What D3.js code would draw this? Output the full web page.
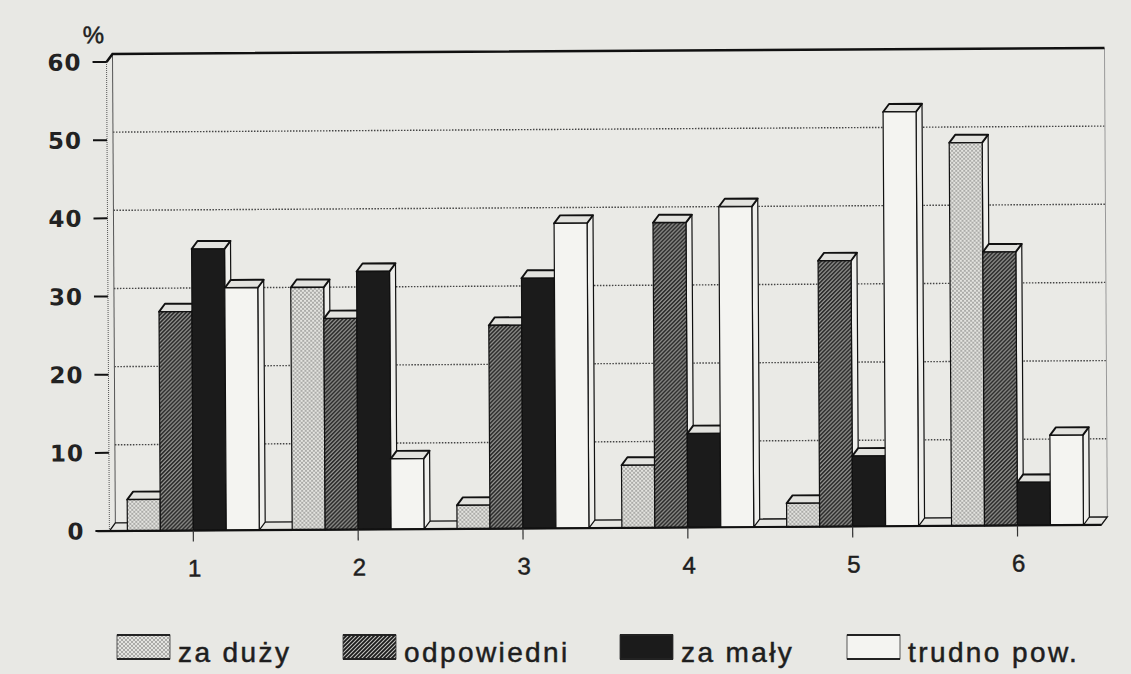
<!DOCTYPE html>
<html>
<head>
<meta charset="utf-8">
<title></title>
<style>
body {
  margin: 0;
  background: #e8e8e4;
}
svg {
  display: block;
}
.ylab {
  font: bold 23px "DejaVu Sans", sans-serif;
  fill: #222;
  letter-spacing: 1px;
}
.xlab {
  font: 24px "Liberation Sans", Arial, sans-serif;
  fill: #1e1e1e;
  stroke: #1e1e1e;
  stroke-width: 0.5px;
}
.leg {
  font: 28px "Liberation Sans", Arial, sans-serif;
  fill: #1e1e1e;
  stroke: #1e1e1e;
  stroke-width: 0.5px;
  letter-spacing: 2.4px;
}
</style>
</head>
<body>
<script src="https://cdn.jsdelivr.net/npm/d3@7"></script>
<script>

// values (%)
var categories = ["1", "2", "3", "4", "5", "6"];
var seriesNames = ["za duży", "odpowiedni", "za mały", "trudno pow."];
var zaDuzy     = [4, 31, 3, 8, 3, 49];
var odpowiedni = [28, 27, 26, 39, 34, 35];
var zaMaly     = [36, 33, 32, 12, 9, 5.5];
var trudnoPow  = [31, 9, 39, 41, 53, 11.5];
var yTicks = [0, 10, 20, 30, 40, 50, 60];

var seriesData = [zaDuzy, odpowiedni, zaMaly, trudnoPow];

var width = 1131,
    height = 674;

var left = 108, right = 1100, base = 528, topY = 59;
var dx = 6, dy = 8;

var x = d3.scaleBand()
    .domain(categories)
    .range([left, right])
    .paddingInner(0.2)
    .paddingOuter(0.109);

var xs = d3.scaleBand()
    .domain(seriesNames)
    .range([0, x.bandwidth()]);

var y = d3.scaleLinear()
    .domain([0, 60])
    .range([base, topY]);

var svg = d3.select("body").append("svg")
    .attr("width", width)
    .attr("height", height);

// fill patterns
var defs = svg.append("defs");

var dots = defs.append("pattern")
    .attr("id", "dots")
    .attr("patternUnits", "userSpaceOnUse")
    .attr("width", 4)
    .attr("height", 4);
dots.append("rect").attr("width", 4).attr("height", 4).attr("fill", "#e4e4e0");
dots.append("circle").attr("cx", 1).attr("cy", 1).attr("r", 0.75).attr("fill", "#555");
dots.append("circle").attr("cx", 3).attr("cy", 3).attr("r", 0.75).attr("fill", "#555");

var hatch = defs.append("pattern")
    .attr("id", "hatch")
    .attr("patternUnits", "userSpaceOnUse")
    .attr("width", 4)
    .attr("height", 4);
hatch.append("rect").attr("width", 4).attr("height", 4).attr("fill", "#c4c4c0");
hatch.append("path")
    .attr("d", "M-1,1 l2,-2 M0,4 l4,-4 M3,5 l2,-2")
    .attr("stroke", "#1a1a1a")
    .attr("stroke-width", 1.8);

var fills = {
  "za duży": "url(#dots)",
  "odpowiedni": "url(#hatch)",
  "za mały": "#1b1b1b",
  "trudno pow.": "#f4f4f1"
};

// the scan is slightly tilted
var chart = svg.append("g")
    .attr("transform", "rotate(-0.35,600,300)");

// back wall
chart.append("rect")
    .attr("x", left + dx)
    .attr("y", y(60) - dy)
    .attr("width", right - left)
    .attr("height", base - y(60))
    .attr("fill", "#eaeae6");

chart.selectAll(".grid")
    .data(yTicks.filter(function(v) { return v > 0 && v < 60; }))
    .enter().append("line")
    .attr("class", "grid")
    .attr("x1", left + dx)
    .attr("x2", right + dx)
    .attr("y1", function(d) { return y(d) - dy; })
    .attr("y2", function(d) { return y(d) - dy; })
    .attr("stroke", "#444")
    .attr("stroke-width", 1.4)
    .attr("stroke-dasharray", "1.5,1.5");

chart.append("line")
    .attr("x1", left + dx).attr("x2", left + dx)
    .attr("y1", y(60) - dy).attr("y2", base - dy)
    .attr("stroke", "#555").attr("stroke-width", 1);

chart.append("line")
    .attr("x1", right + dx).attr("x2", right + dx)
    .attr("y1", y(60) - dy).attr("y2", base - dy)
    .attr("stroke", "#999").attr("stroke-width", 1);

chart.append("line")
    .attr("x1", left).attr("x2", left)
    .attr("y1", y(60)).attr("y2", base)
    .attr("stroke", "#555").attr("stroke-width", 1)
    .attr("stroke-dasharray", "1,1");

chart.append("path")
    .attr("d", "M" + left + "," + y(60) + "L" + (left + dx) + "," + (y(60) - dy) + "H" + (right + dx))
    .attr("fill", "none")
    .attr("stroke", "#111")
    .attr("stroke-width", 2.5);

// floor
chart.append("path")
    .attr("d", "M" + left + "," + base + "L" + right + "," + base +
               "L" + (right + dx) + "," + (base - dy) + "L" + (left + dx) + "," + (base - dy) + "Z")
    .attr("fill", "#e6e6e2")
    .attr("stroke", "#111")
    .attr("stroke-width", 1.3);

// bars, drawn left to right so each front face covers the side of the one before
var bars = [];
categories.forEach(function(c, i) {
  seriesNames.forEach(function(s, j) {
    bars.push({cat: c, series: s, value: seriesData[j][i]});
  });
});

var barG = chart.append("g");
bars.forEach(function(d) {
  var x0 = x(d.cat) + xs(d.series),
      x1 = x0 + xs.bandwidth(),
      yt = y(d.value);
  var g = barG.append("g");
  g.append("path")
      .attr("d", "M" + x1 + "," + base + "L" + (x1 + dx) + "," + (base - dy) +
                 "L" + (x1 + dx) + "," + (yt - dy) + "L" + x1 + "," + yt + "Z")
      .attr("fill", "#efefec")
      .attr("stroke", "#111")
      .attr("stroke-width", 1.2)
      .attr("stroke-linejoin", "round");
  g.append("path")
      .attr("d", "M" + x0 + "," + yt + "L" + (x0 + dx) + "," + (yt - dy) +
                 "L" + (x1 + dx) + "," + (yt - dy) + "L" + x1 + "," + yt + "Z")
      .attr("fill", "#e2e2de")
      .attr("stroke", "#111")
      .attr("stroke-width", 1.9)
      .attr("stroke-linejoin", "round");
  g.append("rect")
      .attr("x", x0)
      .attr("y", yt)
      .attr("width", xs.bandwidth())
      .attr("height", base - yt)
      .attr("fill", fills[d.series])
      .attr("stroke", "#111")
      .attr("stroke-width", 1.2);
});

// axes
chart.append("line")
    .attr("x1", 96).attr("x2", right)
    .attr("y1", base).attr("y2", base)
    .attr("stroke", "#111").attr("stroke-width", 2.2);

chart.selectAll(".ytick")
    .data(yTicks)
    .enter().append("line")
    .attr("class", "ytick")
    .attr("x1", 94).attr("x2", left)
    .attr("y1", function(d) { return y(d); })
    .attr("y2", function(d) { return y(d); })
    .attr("stroke", "#111")
    .attr("stroke-width", 2);

chart.selectAll(".ylab")
    .data(yTicks)
    .enter().append("text")
    .attr("class", "ylab")
    .attr("x", 83)
    .attr("y", function(d) { return y(d); })
    .attr("dy", "0.36em")
    .attr("text-anchor", "end")
    .text(function(d) { return d; });

chart.append("text")
    .attr("class", "xlab")
    .attr("x", 95)
    .attr("y", 40)
    .attr("text-anchor", "middle")
    .text("%");

chart.selectAll(".xtick")
    .data(categories)
    .enter().append("line")
    .attr("class", "xtick")
    .attr("x1", function(d) { return x(d) + x.bandwidth() / 2; })
    .attr("x2", function(d) { return x(d) + x.bandwidth() / 2; })
    .attr("y1", base)
    .attr("y2", base + 11)
    .attr("stroke", "#333")
    .attr("stroke-width", 1.2);

chart.selectAll(".xlab2")
    .data(categories)
    .enter().append("text")
    .attr("class", "xlab")
    .attr("x", function(d) { return x(d) + x.bandwidth() / 2 + 1; })
    .attr("y", 574)
    .attr("text-anchor", "middle")
    .text(function(d) { return d; });

// legend
var legendX = [117, 343, 620, 847];
var legend = svg.selectAll(".legend")
    .data(seriesNames)
    .enter().append("g")
    .attr("class", "legend")
    .attr("transform", function(d, i) { return "translate(" + legendX[i] + ",635)"; });

legend.append("rect")
    .attr("width", 53)
    .attr("height", 24)
    .attr("fill", function(d) { return fills[d]; })
    .attr("stroke", "#333")
    .attr("stroke-width", 0.8);

legend.append("path")
    .attr("d", "M0,0H53M0,24H53")
    .attr("stroke", "#222")
    .attr("stroke-width", 2);

legend.append("text")
    .attr("class", "leg")
    .attr("x", 61)
    .attr("y", 27)
    .text(function(d) { return d; });

</script>
</body>
</html>
